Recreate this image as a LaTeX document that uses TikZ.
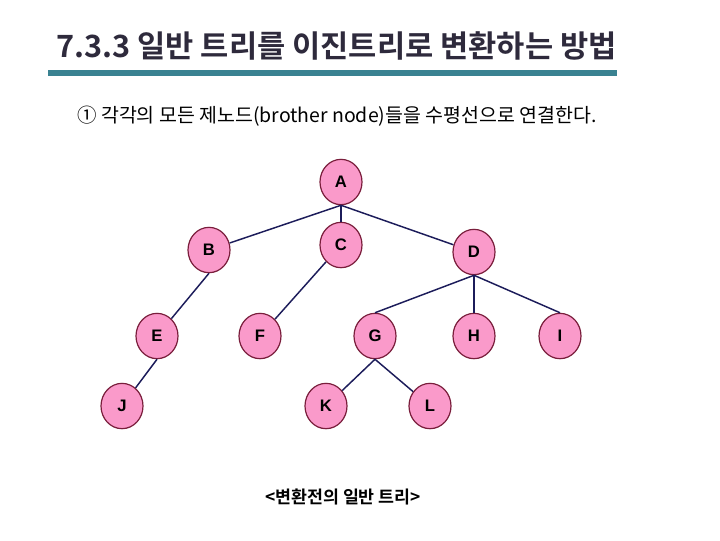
\documentclass[tikz,border=0pt]{standalone}
\usepackage{fontspec}
\setmainfont{Liberation Sans}
\newfontfamily\kr{Noto Sans CJK KR}
\newfontfamily\krb{Noto Sans CJK KR Bold}
\usetikzlibrary{shapes.geometric}
\definecolor{nodefill}{HTML}{FA9ACA}
\definecolor{nodeline}{HTML}{7A1E3C}
\definecolor{edgecol}{HTML}{1C1C5A}
\definecolor{barcol}{HTML}{3A8291}
\definecolor{titlecol}{HTML}{2E2A3C}
\tikzset{
  tnode/.style={ellipse, draw=nodeline, line width=0.9pt, fill=nodefill,
    minimum width=31.5pt, minimum height=34pt, inner sep=0pt,
    font=\bfseries\fontsize{12.5}{14}\selectfont},
  edge/.style={draw=edgecol, line width=1.1pt},
}
\begin{document}
\begin{tikzpicture}[x=0.75pt,y=-0.75pt]
\useasboundingbox (0,0) rectangle (720,540);
% title
\node[anchor=west, inner sep=0, text=titlecol] (title) at (56,46)
  {\krb\fontsize{23}{27}\selectfont 7.3.3 일반 트리를 이진트리로 변환하는 방법};
\fill[barcol] (48,70) rectangle (617,76);
% subtitle
\node[anchor=west, inner sep=0] (sub) at (77,116)
  {\kr\fontsize{14.6}{17}\selectfont ① 각각의 모든 제노드(brother node)들을 수평선으로 연결한다.};
% nodes
\node[tnode] (A) at (341,182) {A};
\node[tnode] (B) at (209,250) {B};
\node[tnode] (C) at (341,245) {C};
\node[tnode] (D) at (474,252) {D};
\node[tnode] (E) at (157,336) {E};
\node[tnode] (F) at (260,336) {F};
\node[tnode] (G) at (375,336) {G};
\node[tnode] (H) at (474,336) {H};
\node[tnode] (I) at (560,336) {I};
\node[tnode] (J) at (122,406) {J};
\node[tnode] (K) at (326,406) {K};
\node[tnode] (L) at (430,406) {L};
% edges
\draw[edge] (A.south) -- (B);
\draw[edge] (A.south) -- (C.north);
\draw[edge] (A.south) -- (D);
\draw[edge] (B.south) -- (E);
\draw[edge] (C) -- (F);
\draw[edge] (D.south) -- (G.north);
\draw[edge] (D.south) -- (H.north);
\draw[edge] (D.south) -- (I.north);
\draw[edge] (E.south) -- (J);
\draw[edge] (G.south) -- (K);
\draw[edge] (G.south) -- (L);
% caption
\node[inner sep=0] (cap) at (343,497)
  {\krb\fontsize{13}{15}\selectfont <변환전의 일반 트리>};
\end{tikzpicture}
\end{document}
